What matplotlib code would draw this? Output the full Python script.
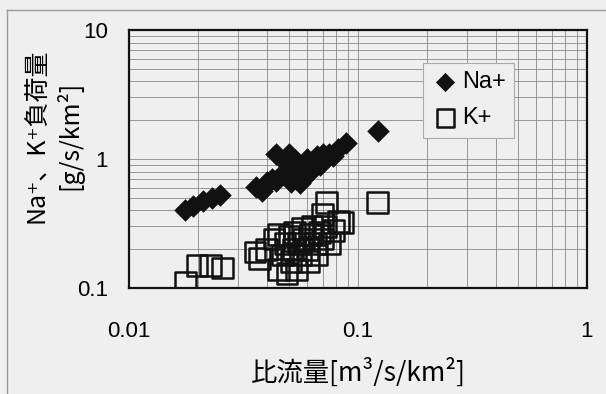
import matplotlib
matplotlib.use("Agg")
import matplotlib.pyplot as plt
from matplotlib.lines import Line2D
from matplotlib.ticker import LogLocator, NullFormatter, FixedLocator, FixedFormatter

plt.rcParams['font.family'] = ['Liberation Sans', 'Noto Sans CJK JP', 'DejaVu Sans']
label_font = ['Noto Sans CJK JP', 'DejaVu Sans']

# 比流量 と Na+ 負荷量
na_q = [0.0175, 0.019, 0.021, 0.023, 0.025,
        0.036, 0.038, 0.040, 0.042, 0.044, 0.044, 0.046, 0.048, 0.050, 0.050,
        0.051, 0.053, 0.055, 0.056, 0.058, 0.060, 0.062, 0.064, 0.066, 0.068,
        0.070, 0.072, 0.075, 0.078, 0.082, 0.089, 0.122]
na_load = [0.40, 0.43, 0.47, 0.50, 0.53,
           0.61, 0.56, 0.66, 0.70, 0.68, 1.10, 0.75, 0.95, 1.10, 0.80,
           0.66, 0.98, 0.85, 0.65, 0.90, 1.00, 0.80, 0.95, 1.05, 0.90,
           1.10, 1.00, 1.10, 1.05, 1.20, 1.33, 1.65]

# 比流量 と K+ 負荷量
k_q = [0.0176, 0.0198, 0.0226, 0.0255,
       0.0355, 0.037, 0.040, 0.043, 0.045, 0.045, 0.047, 0.048, 0.049, 0.050,
       0.051, 0.052, 0.053, 0.054, 0.055, 0.056, 0.057, 0.058, 0.060, 0.061,
       0.062, 0.063, 0.065, 0.066, 0.068, 0.070, 0.070, 0.072, 0.073, 0.075,
       0.078, 0.082, 0.086, 0.122]
k_load = [0.111, 0.150, 0.150, 0.143,
          0.19, 0.17, 0.20, 0.24, 0.26, 0.14, 0.18, 0.22, 0.13, 0.25,
          0.16, 0.20, 0.27, 0.14, 0.22, 0.18, 0.29, 0.24, 0.20, 0.16,
          0.26, 0.30, 0.22, 0.18, 0.27, 0.24, 0.37, 0.30, 0.46, 0.22,
          0.28, 0.33, 0.32, 0.46]

bg = '#efefef'
fig = plt.figure(figsize=(6.06, 3.94), dpi=100, facecolor=bg)
ax = fig.add_axes([129 / 606, 1 - 288 / 394, 458 / 606, 258 / 394], facecolor=bg)

# 外枠
fig.add_artist(Line2D([7 / 606, 1.0], [1 - 10 / 394, 1 - 10 / 394],
                      transform=fig.transFigure, color='#9a9a9a', lw=1))
fig.add_artist(Line2D([7 / 606, 7 / 606], [0.0, 1 - 10 / 394],
                      transform=fig.transFigure, color='#9a9a9a', lw=1))

ax.scatter(k_q, k_load, marker='s', s=15 ** 2, facecolors='none',
           edgecolors='#111111', linewidths=1.8, zorder=3, label='K+')
ax.scatter(na_q, na_load, marker='D', s=11.5 ** 2, color='#111111',
           linewidths=0, zorder=4, label='Na+')

ax.set_xscale('log')
ax.set_yscale('log')
ax.set_xlim(0.01, 1)
ax.set_ylim(0.1, 10)

ax.xaxis.set_major_locator(FixedLocator([0.01, 0.1, 1]))
ax.xaxis.set_major_formatter(FixedFormatter(['0.01', '0.1', '1']))
ax.yaxis.set_major_locator(FixedLocator([0.1, 1, 10]))
ax.yaxis.set_major_formatter(FixedFormatter(['0.1', '1', '10']))
for axis in (ax.xaxis, ax.yaxis):
    axis.set_minor_locator(LogLocator(base=10, subs=range(2, 10)))
    axis.set_minor_formatter(NullFormatter())

ax.grid(True, which='both', color='#8a8a8a', lw=0.6)
ax.set_axisbelow(True)
ax.tick_params(which='both', length=0)
ax.tick_params(axis='x', pad=24, labelsize=16)
ax.tick_params(axis='y', pad=15, labelsize=16)
for sp in ax.spines.values():
    sp.set_linewidth(1.6)
    sp.set_color('#111111')

ax.set_xlabel('比流量[m³/s/km²]', fontsize=19, labelpad=11, family=label_font)
ax.set_ylabel('Na⁺、K⁺負荷量\n[g/s/km²]', fontsize=18, linespacing=1.25,
              ha='center', va='center', family=label_font)
ax.yaxis.set_label_coords(-0.165, 0.59)

handles, labels = ax.get_legend_handles_labels()
leg = ax.legend(handles[::-1], labels[::-1], loc='upper left',
                bbox_to_anchor=(294 / 458, 1 - 33 / 258), fontsize=17,
                frameon=True, fancybox=False, facecolor=bg, edgecolor='#aaaaaa',
                framealpha=1, markerscale=0.85, handletextpad=0.1,
                handlelength=1.2, borderpad=0.35, labelspacing=0.6,
                borderaxespad=0)
leg.get_frame().set_linewidth(0.8)

fig.savefig('out.png', dpi=100, facecolor=bg)
